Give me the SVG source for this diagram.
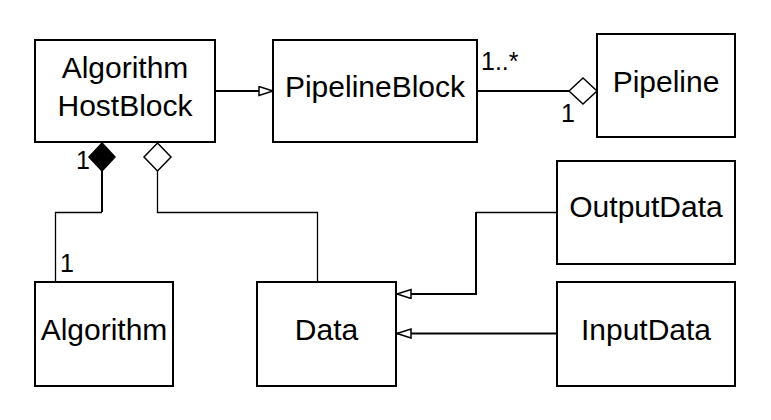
<svg xmlns="http://www.w3.org/2000/svg" width="771" height="420" viewBox="0 0 771 420">
<style>
.box{fill:#fff;stroke:#000;stroke-width:2}
.t{font-family:"Liberation Sans",Arial,sans-serif;font-size:30px;fill:#000;text-anchor:middle}
.lb{font-family:"Liberation Sans",Arial,sans-serif;font-size:25px;fill:#000}
.ln{fill:none;stroke:#000;stroke-width:2}
.thin{fill:none;stroke:#000;stroke-width:1.3}
.dh{fill:#fff;stroke:#000;stroke-width:1.5}
.df{fill:#000;stroke:#000;stroke-width:1.5}
</style>
<defs>
<marker id="tri" markerUnits="userSpaceOnUse" markerWidth="18" markerHeight="12" refX="15" refY="5" orient="auto">
<path d="M1,0.5 L15,5 L1,9.5 Z" fill="#fff" stroke="#000" stroke-width="1.5"/>
</marker>
</defs>
<rect width="771" height="420" fill="#fff"/>
<g id="connectors">
<path class="ln" d="M215,91 L273,91" marker-end="url(#tri)"/>
<path class="ln" d="M477,91 L569,91"/>
<polygon class="dh" points="569,91 583,78 597,91 583,104"/>
<polygon class="df" points="102,143 115,157 102,171 89,157"/>
<path class="ln" d="M102,171 L102,212"/>
<path class="thin" d="M102,212.5 L55.5,212.5 L55.5,282"/>
<polygon class="dh" points="157.5,143 171,157 157.5,171 144,157"/>
<path class="thin" d="M157.5,171 L157.5,212.5 L317.5,212.5 L317.5,282"/>
<path class="thin" d="M557,212.5 L476,212.5"/>
<path class="ln" d="M476,212 L476,294 L397,294" marker-end="url(#tri)"/>
<path class="ln" d="M557,333.5 L397,333.5" marker-end="url(#tri)"/>
<text class="lb" x="481" y="70">1..*</text>
<text class="lb" x="561" y="122">1</text>
<text class="lb" x="76" y="169">1</text>
<text class="lb" x="60" y="272">1</text>
</g>
<g id="AlgorithmHostBlock">
<rect class="box" x="35" y="40" width="180" height="102"/>
<text class="t" x="125" y="78">Algorithm</text>
<text class="t" x="125" y="116">HostBlock</text>
</g>
<g id="PipelineBlock">
<rect class="box" x="273" y="40" width="204" height="102"/>
<text class="t" x="375" y="97">PipelineBlock</text>
</g>
<g id="Pipeline">
<rect class="box" x="597" y="34" width="138" height="103"/>
<text class="t" x="666" y="92">Pipeline</text>
</g>
<g id="OutputData">
<rect class="box" x="557" y="161" width="178" height="103"/>
<text class="t" x="646" y="217">OutputData</text>
</g>
<g id="Algorithm">
<rect class="box" x="35" y="282" width="138" height="104"/>
<text class="t" x="104" y="340">Algorithm</text>
</g>
<g id="Data">
<rect class="box" x="257" y="282" width="139" height="104"/>
<text class="t" x="326.5" y="340">Data</text>
</g>
<g id="InputData">
<rect class="box" x="557" y="282" width="178" height="104"/>
<text class="t" x="646" y="340">InputData</text>
</g>
</svg>
